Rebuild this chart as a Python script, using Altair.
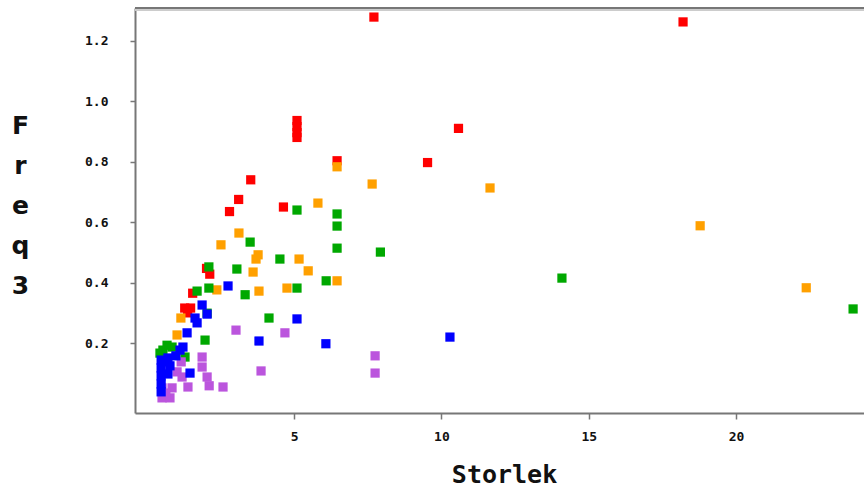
import altair as alt
import pandas as pd

groups = ["1", "2", "3", "4", "5"]
colors = ["#FF0000", "#FFA000", "#00A800", "#BB55DD", "#0000FF"]

red_x = [7.71, 18.2, 5.1, 5.1, 5.1, 5.1, 10.58, 9.53, 6.46, 3.53, 3.12, 2.81, 4.64, 2.03, 2.14, 1.56, 1.29, 1.49, 1.39]
red_y = [1.278, 1.262, 0.936, 0.916, 0.896, 0.88, 0.91, 0.797, 0.803, 0.74, 0.675, 0.635, 0.65, 0.447, 0.428, 0.365, 0.316, 0.316, 0.30]

orange_x = [18.78, 22.38, 11.65, 7.65, 6.46, 5.81, 5.17, 5.48, 4.76, 6.46, 3.78, 3.71, 3.61, 3.81, 3.13, 2.52, 2.38, 1.16, 1.03]
orange_y = [0.588, 0.383, 0.713, 0.726, 0.783, 0.663, 0.478, 0.439, 0.382, 0.406, 0.492, 0.478, 0.435, 0.372, 0.564, 0.525, 0.376, 0.283, 0.227]

green_x = [23.97, 14.09, 7.93, 6.46, 6.46, 6.46, 5.1, 6.09, 4.52, 5.1, 4.15, 3.51, 3.06, 3.34, 2.11, 2.11, 1.71, 1.98, 0.86, 0.55, 1.3, 2.05, 0.69, 0.45]
green_y = [0.313, 0.415, 0.501, 0.627, 0.587, 0.514, 0.64, 0.406, 0.478, 0.382, 0.283, 0.534, 0.445, 0.36, 0.452, 0.382, 0.372, 0.21, 0.187, 0.177, 0.154, 0.299, 0.193, 0.167]

purple_x = [7.75, 7.75, 4.69, 3.03, 3.88, 2.59, 1.88, 1.88, 2.05, 2.12, 1.4, 1.03, 1.2, 0.52, 0.86, 0.52, 0.79, 0.65, 1.17]
purple_y = [0.158, 0.101, 0.234, 0.243, 0.108, 0.055, 0.154, 0.121, 0.088, 0.059, 0.055, 0.105, 0.088, 0.052, 0.052, 0.019, 0.019, 0.035, 0.138]

blue_x = [10.29, 6.08, 5.1, 3.81, 2.76, 1.88, 2.05, 1.64, 1.71, 1.37, 1.23, 1.47, 0.49, 0.49, 0.49, 0.49, 0.49, 0.72, 0.79, 0.99, 1.13, 0.72, 0.62]
blue_y = [0.22, 0.198, 0.28, 0.207, 0.389, 0.326, 0.296, 0.283, 0.267, 0.234, 0.187, 0.101, 0.144, 0.118, 0.092, 0.065, 0.039, 0.151, 0.125, 0.158, 0.177, 0.098, 0.138]

x_ticks = [5, 10, 15, 20]
y_ticks = [0.2, 0.4, 0.6, 0.8, 1.0, 1.2]

series = [(red_x, red_y), (orange_x, orange_y), (green_x, green_y), (purple_x, purple_y), (blue_x, blue_y)]
rows = []
order = 0
for g, (xs, ys) in zip(groups, series):
    for xv, yv in zip(xs, ys):
        rows.append({"Storlek": xv, "Freq3": yv, "grp": g, "ord": order})
        order += 1
df = pd.DataFrame(rows)

W, H = 729, 405
FONT = "DejaVu Sans Mono"

points = alt.Chart(df).mark_square(size=85, opacity=1).encode(
    x=alt.X("Storlek:Q",
            scale=alt.Scale(domain=[-0.397, 24.34], nice=False, zero=False),
            axis=alt.Axis(values=x_ticks, grid=False, title="Storlek",
                          labelFont=FONT, labelFontWeight="bold", labelFontSize=13,
                          labelColor="#111111", labelPadding=11,
                          tickSize=6, tickColor="#777777", tickWidth=1.5,
                          domainColor="#777777", domainWidth=2,
                          titleFont=FONT, titleFontWeight="bold", titleFontSize=25,
                          titleColor="#111111", titleX=369, titleY=69,
                          titleBaseline="alphabetic", titleAlign="center")),
    y=alt.Y("Freq3:Q",
            scale=alt.Scale(domain=[-0.031, 1.308], nice=False, zero=False),
            axis=alt.Axis(values=y_ticks, grid=False, title=["F", "r", "e", "q", "3"],
                          format=".1f",
                          labelFont=FONT, labelFontWeight="bold", labelFontSize=13,
                          labelColor="#111111", labelPadding=22,
                          tickSize=5, tickColor="#777777", tickWidth=1.5,
                          domainColor="#777777", domainWidth=2,
                          titleFont="DejaVu Sans", titleFontWeight="bold", titleFontSize=25,
                          titleColor="#111111", titleAngle=0, titleX=-115, titleY=117,
                          titleAlign="center", titleBaseline="middle", titleLineHeight=40)),
    color=alt.Color("grp:N", scale=alt.Scale(domain=groups, range=colors), legend=None),
    order=alt.Order("ord:Q"),
)

top1 = alt.Chart(df).mark_rule(color="#777777", strokeWidth=2).encode(
    x=alt.value(0), x2=alt.value(W), y=alt.value(0))
top2 = alt.Chart(df).mark_rule(color="#cccccc", strokeWidth=1).encode(
    x=alt.value(0), x2=alt.value(W), y=alt.value(2))

chart = alt.layer(top2, top1, points).properties(
    width=W, height=H, autosize="none",
    padding={"left": 135, "top": 8, "right": 0, "bottom": 75},
    background="white",
).configure_view(stroke=None)

chart.save("out.html", embed_options={"renderer": "svg", "actions": False})
